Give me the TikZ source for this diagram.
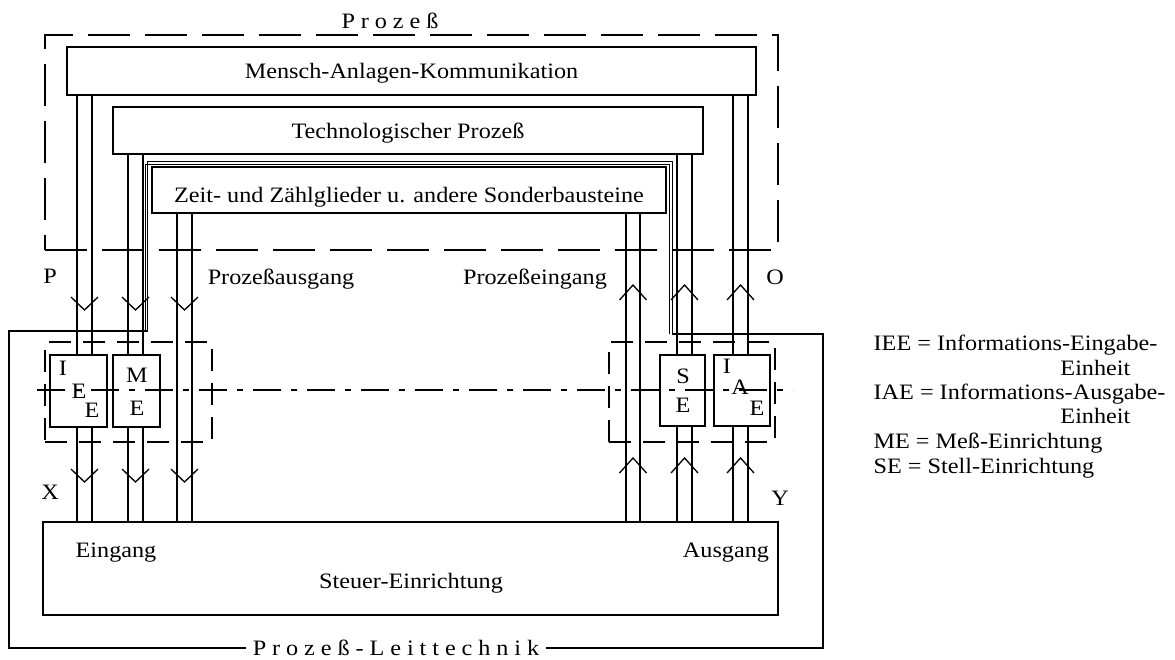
\documentclass[tikz,border=0pt]{standalone}
\usepackage{fontspec}
\setmainfont{Liberation Serif}[FakeStretch=1.1]
\newfontfamily\spacedfont{Liberation Serif}[FakeStretch=1.1,LetterSpace=27]
\usetikzlibrary{positioning}

\begin{document}
\begin{tikzpicture}[
x=1pt, y=-1pt,
line width=1.3pt,
every node/.style={font=\fontsize{22}{25}\selectfont, inner sep=0pt},
block/.style={rectangle, draw, text height=15pt, text depth=0pt},
unit/.style={rectangle, draw, minimum height=72pt},
group/.style={rectangle, draw, dash pattern=on 22pt off 12pt, minimum width=167pt, minimum height=100pt},
spaced/.style={font=\fontsize{22}{25}\spacedfont},
dashdot/.style={dash pattern=on 28pt off 10pt on 6pt off 10pt}
]
\useasboundingbox (0,0) rectangle (1175,659);

% PROZESS
\node (prozess) [draw, dash pattern=on 42pt off 15pt, minimum width=733pt, minimum height=215pt] at (411.5,142.5) {};
\node (prozesslbl) [spaced, anchor=base] at (390,28) {Prozeß};

% BLOECKE
\node (mensch) [block, minimum width=689pt, minimum height=48pt] at (411.5,71) {Mensch-Anlagen-Kommunikation};
\node (tech) [block, minimum width=590pt, minimum height=47pt] at (408,130.5) {Technologischer Prozeß};
\node (zeit) [block, text height=24pt, minimum width=514pt, minimum height=46pt] at (409,190) {Zeit- und Zählglieder u. andere Sonderbausteine};
\node (steuer) [block, minimum width=735pt, minimum height=93pt] at (410.5,568.5) {};
\node (steuertxt) [anchor=base] at (411,588) {Steuer-Einrichtung};
\node (eingang) [anchor=base] at (116,557) {Eingang};
\node (ausgang) [anchor=base] at (726,557) {Ausgang};

% PROZESS-LEITTECHNIK
\node (leitlbl) [spaced, inner xsep=6pt] at (396,648) {Prozeß-Leittechnik};
\draw (leitlbl.west) -- (9,648) -- (9,331) -- (147.5,331) -- (147.5,161.5) -- (672.5,161.5) -- (672.5,334) -- (823,334) -- (823,648) -- (leitlbl.east);
\draw[line width=0.9pt] (145,331) -- (145,164.5) -- (669.5,164.5) -- (669.5,334);

% EINHEITEN
\node (grpE) [group] at (128.5,392) {};
\node (grpA) [group, minimum width=166pt] at (692,392) {};
\node (iee) [unit, minimum width=57pt] at (78.5,391) {};
\node (me) [unit, minimum width=47pt] at (136.5,391) {};
\node (se) [unit, minimum width=45pt, minimum height=71pt] at (682.5,390.5) {};
\node (iae) [unit, minimum width=56pt, minimum height=71pt] at (742,390.5) {};

\node (ieeI) [anchor=base] at (63,375) {I};
\node (ieeE) [anchor=base] at (79,398) {E};
\node (ieeEE) [anchor=base] at (92,417) {E};
\node (meM) [anchor=base] at (137,382) {M};
\node (meE) [anchor=base] at (137,415) {E};
\node (seS) [anchor=base] at (683,383) {S};
\node (seE) [anchor=base] at (683,412) {E};
\node (iaeI) [anchor=base] at (727,373) {I};
\node (iaeA) [anchor=base] at (740,394) {A};
\node (iaeE) [anchor=base] at (757,415) {E};

\coordinate (dashL) at (37,390);
\coordinate (dashR) at (793,390);
\draw[dashdot] (dashL) -- (dashR);

% LEITUNGEN
\foreach \px/\src/\unit in {77/mensch/iee, 92/mensch/iee, 128/tech/me, 143/tech/me,
  677/tech/se, 692/tech/se, 733/mensch/iae, 748/mensch/iae}{
  \draw (\src.south -| \px,0) -- (\unit.north -| \px,0);
  \draw (\unit.south -| \px,0) -- (steuer.north -| \px,0);
}
\foreach \px in {177,192,626,640}
  \draw (zeit.south -| \px,0) -- (steuer.north -| \px,0);

% PFEILE
\foreach \cx in {84.5,135.5,184.5}
  \foreach \cy in {310,482}
    \draw (\cx-13.5,\cy-13) -- (\cx,\cy) -- (\cx+13.5,\cy-13);
\foreach \cx in {633,684.5,740.5}
  \foreach \cy in {285,458}
    \draw (\cx-13.5,\cy+15) -- (\cx,\cy) -- (\cx+13.5,\cy+15);

% BESCHRIFTUNG
\node (lblP) [anchor=base] at (50,283) {P};
\node (lblO) [anchor=base] at (775,284) {O};
\node (lblX) [anchor=base] at (50,499) {X};
\node (lblY) [anchor=base] at (780,505) {Y};
\node (ausgangP) [anchor=base] at (281,284) {Prozeßausgang};
\node (eingangP) [anchor=base] at (535,284) {Prozeßeingang};

% LEGENDE
\node (legIEE) [anchor=base west] at (873,350) {IEE = Informations-Eingabe-};
\node (legIEEb) [anchor=base east] at (1131,375) {Einheit};
\node (legIAE) [anchor=base west] at (873,399) {IAE = Informations-Ausgabe-};
\node (legIAEb) [anchor=base east] at (1131,423) {Einheit};
\node (legME) [anchor=base west] at (873,448) {ME = Meß-Einrichtung};
\node (legSE) [anchor=base west] at (873,473) {SE = Stell-Einrichtung};

\end{tikzpicture}
\end{document}
